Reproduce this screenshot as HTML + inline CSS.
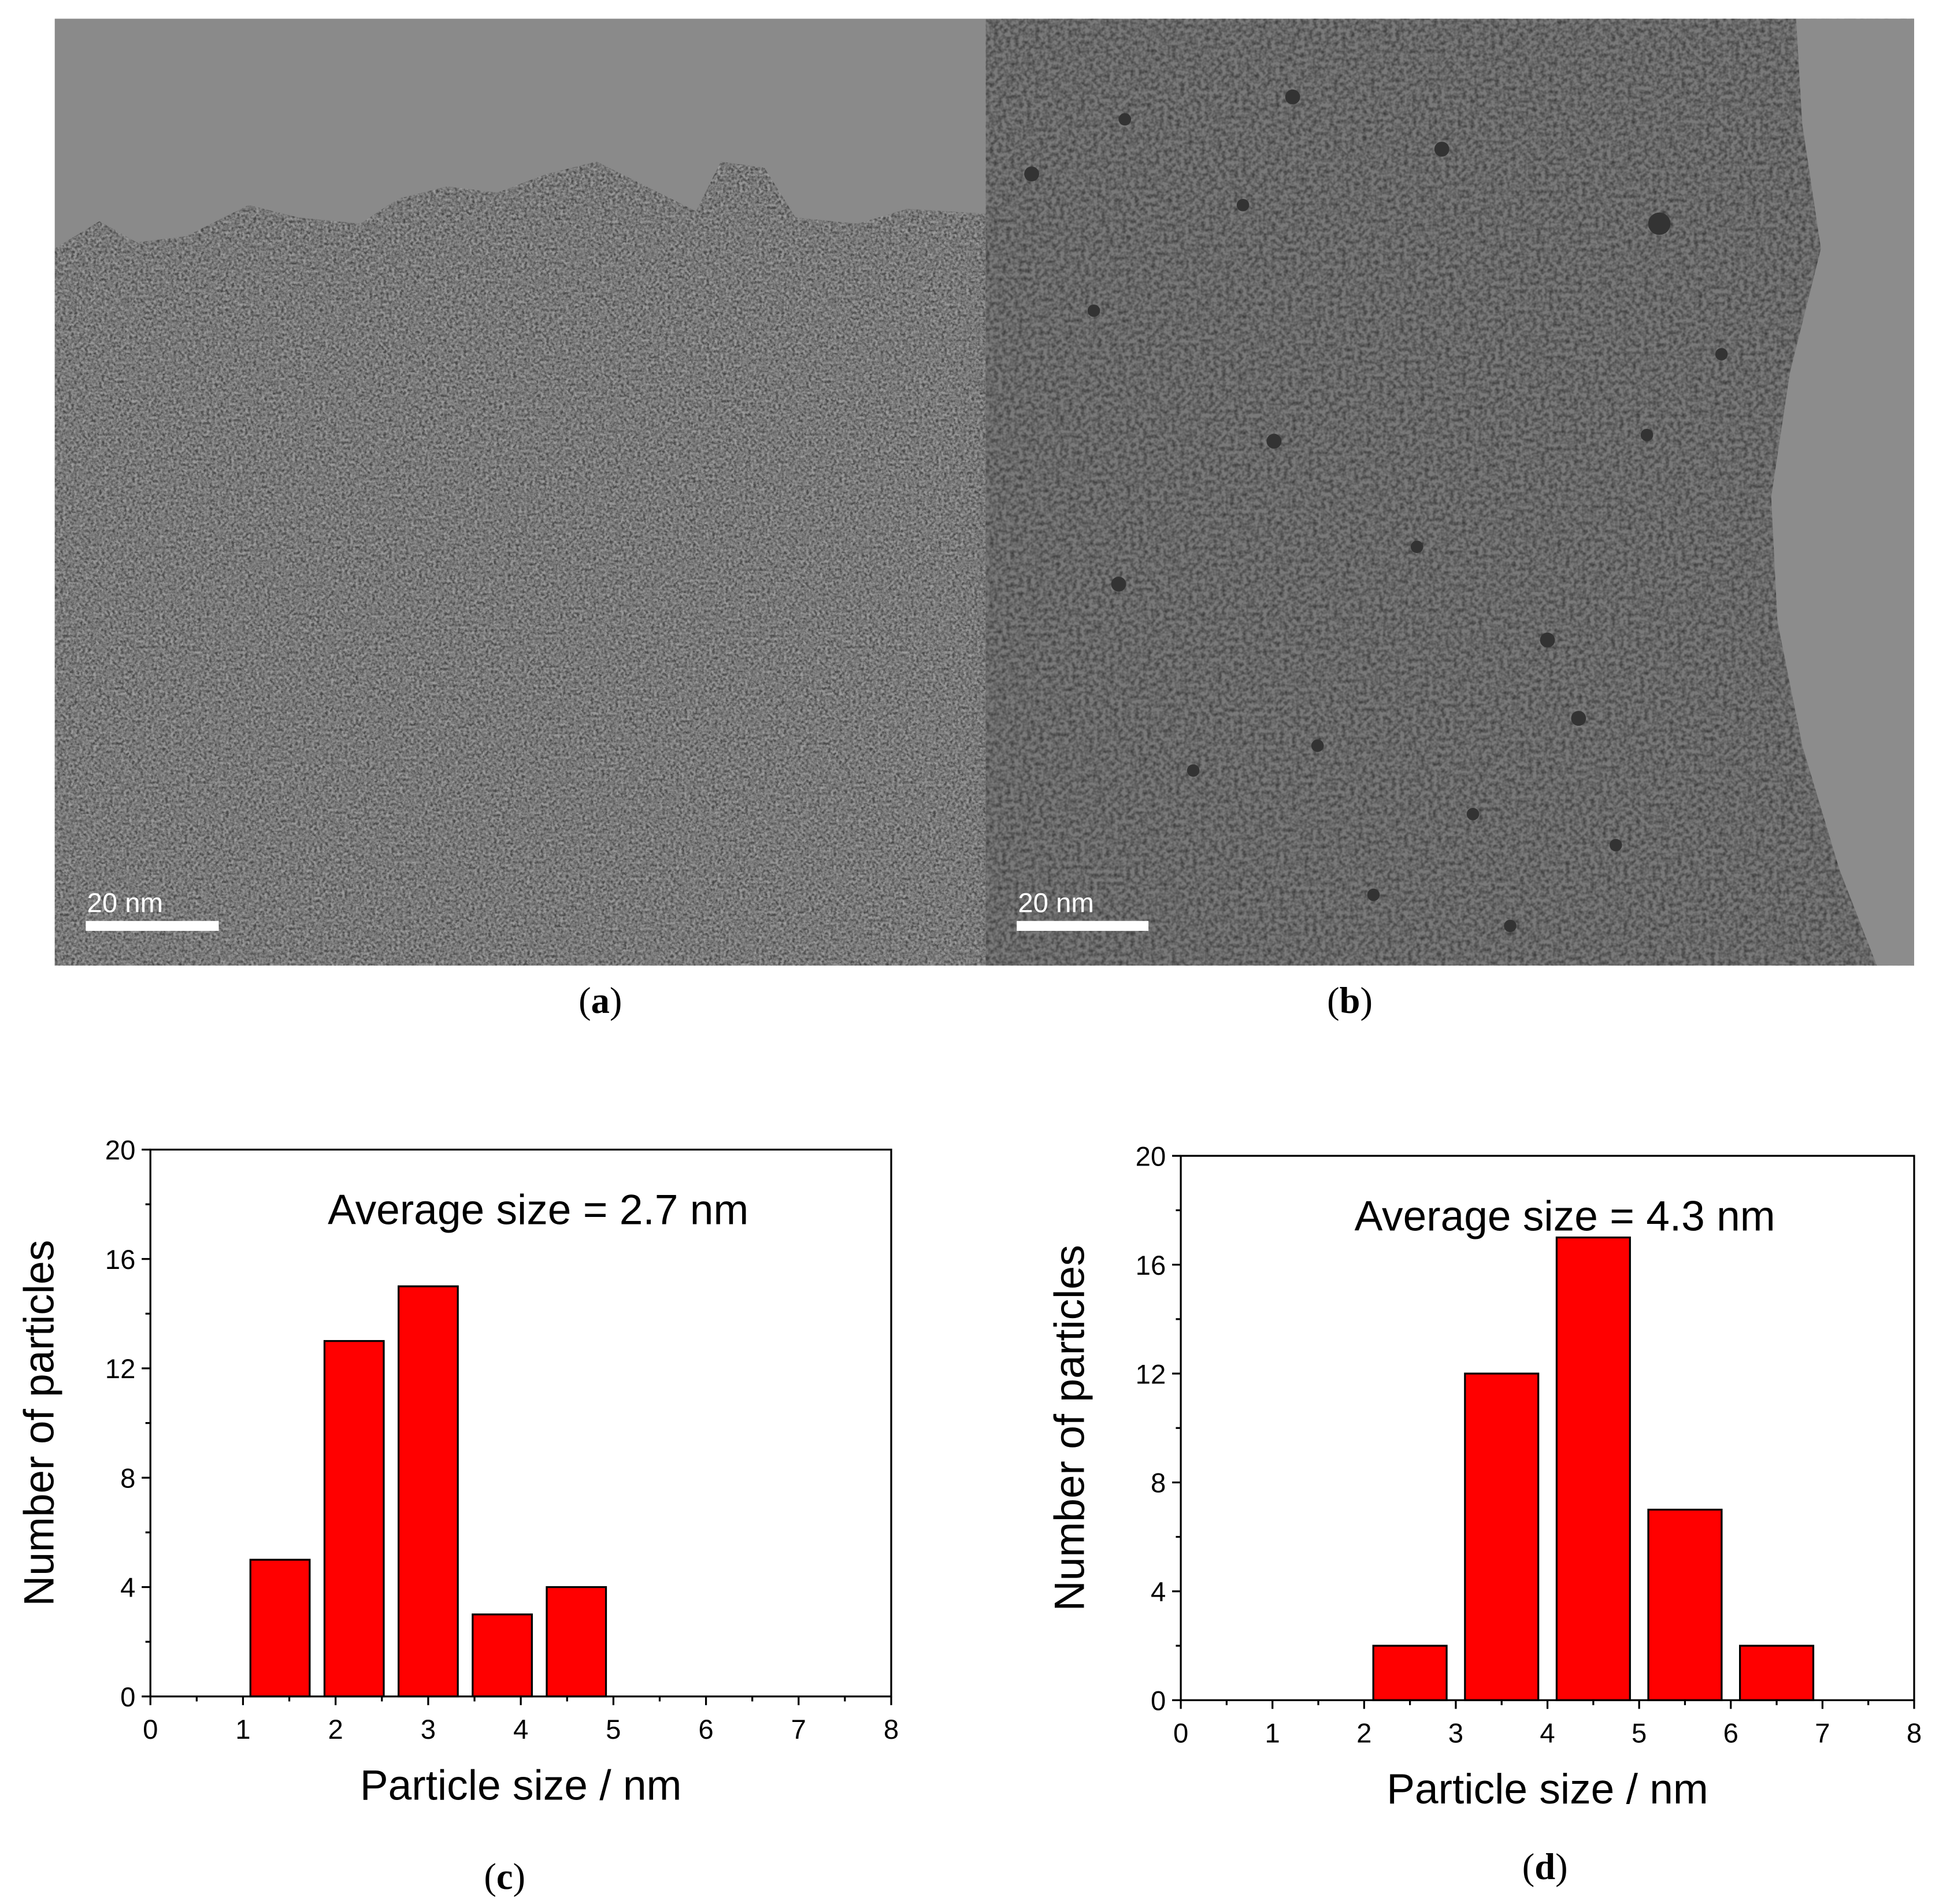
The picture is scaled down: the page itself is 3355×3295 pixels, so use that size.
<!DOCTYPE html>
<html><head><meta charset="utf-8"><style>
html,body{margin:0;padding:0;background:#fff}
svg{display:block}
text{font-family:"Liberation Sans",sans-serif}
.cap{font-family:"Liberation Serif",serif;font-size:30px}
</style></head><body>
<svg id="fig" width="3355" height="3295" viewBox="0 0 1560 1532" preserveAspectRatio="none" xmlns="http://www.w3.org/2000/svg">
<defs>
<filter id="noiseA" x="0" y="0" width="100%" height="100%">
<feTurbulence type="fractalNoise" baseFrequency="0.45" numOctaves="2" seed="3"/>
<feColorMatrix type="matrix" values="0 0 0 0 0  0 0 0 0 0  0 0 0 0 0  0 0 0 -2.4 1.6"/>
</filter>
<filter id="noiseW" x="0" y="0" width="100%" height="100%">
<feTurbulence type="fractalNoise" baseFrequency="0.45" numOctaves="2" seed="11"/>
<feColorMatrix type="matrix" values="0 0 0 0 1  0 0 0 0 1  0 0 0 0 1  0 0 0 -2.4 1.6"/>
</filter>
<filter id="noiseB" x="0" y="0" width="100%" height="100%">
<feTurbulence type="fractalNoise" baseFrequency="0.3" numOctaves="2" seed="7"/>
<feColorMatrix type="matrix" values="0 0 0 0 0  0 0 0 0 0  0 0 0 0 0  0 0 0 -1.8 1.2"/>
</filter>
<clipPath id="clipA"><rect x="44" y="15" width="749" height="762"/></clipPath>
<clipPath id="clipAlow"><path d="M44 200 L80 178 L110 195 L150 190 L200 165 L240 175 L290 180 L320 160 L360 150 L400 155 L440 140 L480 130 L520 150 L560 170 L580 130 L615 135 L640 175 L690 180 L730 168 L793 172 L793 777 L44 777Z"/></clipPath>
<clipPath id="clipB"><rect x="793" y="15" width="747" height="762"/></clipPath>
</defs>
<g clip-path="url(#clipA)">
<rect x="44" y="15" width="749" height="762" fill="#8a8a8a"/>
<g clip-path="url(#clipAlow)">
<rect x="44" y="15" width="749" height="762" fill="#808080"/>
<rect x="44" y="15" width="749" height="762" filter="url(#noiseA)" opacity="0.45"/>
<rect x="44" y="15" width="749" height="762" filter="url(#noiseW)" opacity="0.25"/>
</g>
</g>
<g clip-path="url(#clipB)">
<rect x="793" y="15" width="747" height="762" fill="#7a7a7a"/>
<rect x="793" y="15" width="747" height="762" filter="url(#noiseB)" opacity="0.5"/>
<path d="M1445 15 L1540 15 L1540 777 L1510 777 L1480 700 L1450 600 L1430 500 L1425 400 L1440 300 L1465 200 L1450 100Z" fill="#8c8c8c"/>
<g fill="#333">
<circle cx="1335" cy="180" r="9"/><circle cx="900" cy="470" r="6"/><circle cx="1040" cy="78" r="6"/><circle cx="1160" cy="120" r="6"/><circle cx="1025" cy="355" r="6"/><circle cx="1245" cy="515" r="6"/><circle cx="1270" cy="578" r="6"/><circle cx="880" cy="250" r="5"/><circle cx="1325" cy="350" r="5"/><circle cx="1060" cy="600" r="5"/><circle cx="1185" cy="655" r="5"/><circle cx="830" cy="140" r="6"/><circle cx="1000" cy="165" r="5"/><circle cx="1385" cy="285" r="5"/><circle cx="1215" cy="745" r="5"/><circle cx="1105" cy="720" r="5"/><circle cx="960" cy="620" r="5"/><circle cx="1140" cy="440" r="5"/><circle cx="1300" cy="680" r="5"/><circle cx="905" cy="96" r="5"/>
</g>
</g>
<g>
<rect x="69" y="741" width="107" height="8" fill="#fff"/>
<text x="70" y="734" fill="#fff" font-size="22" font-family="DejaVu Sans Mono,monospace">20 nm</text>
</g>
<g>
<rect x="818" y="741" width="106" height="8" fill="#fff"/>
<text x="819" y="734" fill="#fff" font-size="22" font-family="DejaVu Sans Mono,monospace">20 nm</text>
</g>
<text class="cap" x="483" y="815" text-anchor="middle">(<tspan font-weight="bold">a</tspan>)</text>
<text class="cap" x="1086" y="815" text-anchor="middle">(<tspan font-weight="bold">b</tspan>)</text>
<text class="cap" x="406" y="1520" text-anchor="middle">(<tspan font-weight="bold">c</tspan>)</text>
<text class="cap" x="1243" y="1512" text-anchor="middle">(<tspan font-weight="bold">d</tspan>)</text>
<g id="chartC"></g>
<g id="chartD"></g>
</svg>
<script>
const xTicks = [0,1,2,3,4,5,6,7,8];
const yTicks = [0,4,8,12,16,20];
const cCenters = [1.4,2.2,3.0,3.8,4.6];
const cCounts = [5,13,15,3,4];
const cWidth = 0.64;
const cAvg = "Average size = 2.7 nm";
const dCenters = [2.5,3.5,4.5,5.5,6.5];
const dCounts = [2,12,17,7,2];
const dWidth = 0.8;
const dAvg = "Average size = 4.3 nm";
const NS="http://www.w3.org/2000/svg";
function mk(tag,attrs,parent){const e=document.createElementNS(NS,tag);for(const k in attrs)e.setAttribute(k,attrs[k]);parent.appendChild(e);return e;}
function draw(g,box,centers,counts,bw,avg,prefix){
  const sx=v=>box.x0+(v-0)/8*(box.x1-box.x0);
  const sy=v=>box.y1-(v/20)*(box.y1-box.y0);
  counts.forEach((c,i)=>{
    const r=mk('rect',{x:sx(centers[i]-bw/2),y:sy(c),width:sx(bw)-sx(0),height:sy(0)-sy(c),fill:'#ff0000',stroke:'#000','stroke-width':1.5},g);
    
    
  });
  const fr=mk('rect',{x:box.x0,y:box.y0,width:box.x1-box.x0,height:box.y1-box.y0,fill:'none',stroke:'#000','stroke-width':1.5},g);
  
  
  xTicks.forEach(t=>{
    mk('line',{x1:sx(t),x2:sx(t),y1:box.y1,y2:box.y1+7,stroke:'#000','stroke-width':1.5},g);
    if(t<8) mk('line',{x1:sx(t+0.5),x2:sx(t+0.5),y1:box.y1,y2:box.y1+4,stroke:'#000','stroke-width':1.5},g);
    const tx=mk('text',{x:sx(t),y:box.y1+34,'text-anchor':'middle','font-size':22},g);
    tx.textContent=t;
    
    
  });
  yTicks.forEach(t=>{
    mk('line',{x1:box.x0-7,x2:box.x0,y1:sy(t),y2:sy(t),stroke:'#000','stroke-width':1.5},g);
    if(t<20) mk('line',{x1:box.x0-4,x2:box.x0,y1:sy(t+2),y2:sy(t+2),stroke:'#000','stroke-width':1.5},g);
    const tx=mk('text',{x:box.x0-12,y:sy(t)+8,'text-anchor':'end','font-size':22},g);
    tx.textContent=t;
    
    
  });
  const xt=mk('text',{x:(box.x0+box.x1)/2,y:box.y1+83,'text-anchor':'middle','font-size':34},g);
  xt.textContent='Particle size / nm';
  
  
  const yc=(box.y0+box.y1)/2, yx=box.x0-78;
  const yt=mk('text',{x:yx,y:yc,'text-anchor':'middle','font-size':34,transform:'rotate(-90 '+yx+' '+yc+')'},g);
  yt.textContent='Number of particles';
  
  
  const at=mk('text',{x:(box.x0+box.x1)/2+14,y:box.y0+60,'text-anchor':'middle','font-size':34},g);
  at.textContent=avg;
  
  
}
draw(document.getElementById('chartC'),{x0:121,x1:717,y0:925,y1:1365},cCenters,cCounts,cWidth,cAvg,'c');
draw(document.getElementById('chartD'),{x0:950,x1:1540,y0:930,y1:1368},dCenters,dCounts,dWidth,dAvg,'d');
</script>
</body></html>
